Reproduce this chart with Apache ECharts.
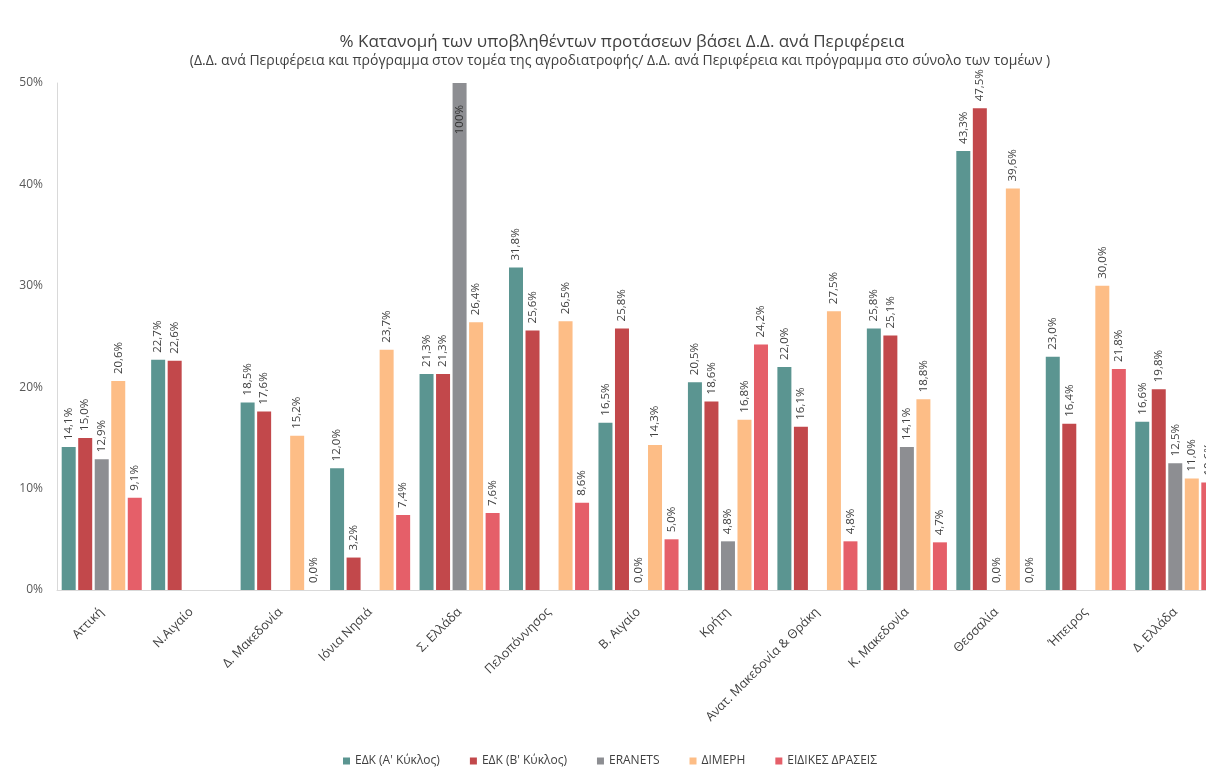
<!DOCTYPE html>
<html>
<head>
<meta charset="utf-8">
<script src="https://cdn.jsdelivr.net/npm/echarts@6/dist/echarts.min.js"></script>
<style>
html,body{margin:0;padding:0;background:#fff;overflow:hidden;}
#chart{width:1206px;height:767px;}
</style>
</head>
<body>
<div id="chart"></div>
<script>
const categories = ['Αττική','Ν.Αιγαίο','Δ. Μακεδονία','Ιόνια Νησιά','Σ. Ελλάδα','Πελοπόννησος','Β. Αιγαίο','Κρήτη','Ανατ. Μακεδονία & Θράκη','Κ. Μακεδονία','Θεσσαλία','Ήπειρος','Δ. Ελλάδα'];
const seriesNames = ["ΕΔΚ (Α' Κύκλος)", "ΕΔΚ (Β' Κύκλος)", 'ERANETS', 'ΔΙΜΕΡΗ', 'ΕΙΔΙΚΕΣ ΔΡΑΣΕΙΣ'];
const edkA    = [14.1, 22.7, 18.5, 12.0, 21.3, 31.8, 16.5, 20.5, 22.0, 25.8, 43.3, 23.0, 16.6];
const edkB    = [15.0, 22.6, 17.6, 3.2, 21.3, 25.6, 25.8, 18.6, 16.1, 25.1, 47.5, 16.4, 19.8];
const eranets = [12.9, null, null, null, 100, null, 0.0, 4.8, null, 14.1, 0.0, null, 12.5];
const dimeri  = [20.6, null, 15.2, 23.7, 26.4, 26.5, 14.3, 16.8, 27.5, 18.8, 39.6, 30.0, 11.0];
const eidikes = [9.1, null, 0.0, 7.4, 7.6, 8.6, 5.0, 24.2, 4.8, 4.7, 0.0, 21.8, 10.6];
const yTicks = [0, 10, 20, 30, 40, 50];

const colors = ['#5b9591', '#c2484b', '#8d8e92', '#fdbd86', '#e55f69'];
const seriesData = [edkA, edkB, eranets, dimeri, eidikes];
const yMax = yTicks[yTicks.length - 1];
const fmt = v => (Number.isInteger(v) && v >= 100 ? String(v) : v.toFixed(1).replace('.', ',')) + '%';
const FONT = 'Open Sans';

const chart = echarts.init(document.getElementById('chart'), null, {renderer: 'canvas'});

const series = seriesData.map((arr, i) => ({
  name: seriesNames[i],
  type: 'bar',
  barGap: '18%',
  barCategoryGap: '10.5%',
  itemStyle: {color: colors[i]},
  label: {
    show: true,
    position: 'top',
    rotate: 90,
    align: 'left',
    verticalAlign: 'middle',
    distance: 7,
    fontSize: 11.5,
    fontFamily: FONT,
    color: '#404040',
    formatter: p => p.value == null ? '' : fmt(p.value)
  },
  data: arr.map(v => {
    if (v != null && v > yMax) {
      return {value: v, label: {position: 'insideTop', rotate: 90, align: 'right', verticalAlign: 'middle', distance: 22, color: '#333'}};
    }
    return v;
  })
}));

chart.setOption({
  animation: false,
  color: colors,
  title: [
    {text: '% Κατανομή των υποβληθέντων προτάσεων βάσει Δ.Δ. ανά Περιφέρεια', left: 617, top: 29, textAlign: 'center',
     textStyle: {fontSize: 17, fontWeight: 'normal', color: '#404040', fontFamily: FONT}},
    {text: '(Δ.Δ. ανά Περιφέρεια και πρόγραμμα στον τομέα της αγροδιατροφής/ Δ.Δ. ανά Περιφέρεια και πρόγραμμα στο σύνολο των τομέων )', left: 615, top: 49, textAlign: 'center',
     textStyle: {fontSize: 14, fontWeight: 'normal', color: '#404040', fontFamily: FONT}}
  ],
  legend: {
    data: seriesNames,
    left: 338,
    top: 750,
    itemWidth: 7,
    itemHeight: 7,
    itemGap: 30,
    icon: 'rect',
    textStyle: {fontSize: 12, color: '#404040', fontFamily: FONT}
  },
  grid: {left: 57, top: 83, width: 1163, height: 507, containLabel: false, outerBoundsMode: 'none'},
  xAxis: {
    type: 'category',
    data: categories,
    axisLine: {lineStyle: {color: '#d9d9d9', width: 1}},
    axisTick: {show: false},
    axisLabel: {rotate: 45, margin: 20, fontSize: 12.5, color: '#404040', fontFamily: FONT, interval: 0}
  },
  yAxis: {
    type: 'value',
    min: yTicks[0],
    max: yMax,
    interval: 10,
    axisLine: {show: true, lineStyle: {color: '#d9d9d9'}},
    axisTick: {show: false},
    splitLine: {show: false},
    axisLabel: {formatter: '{value}%', fontSize: 12, color: '#595959', fontFamily: FONT, margin: 14}
  },
  series: series
});
</script>
</body>
</html>
